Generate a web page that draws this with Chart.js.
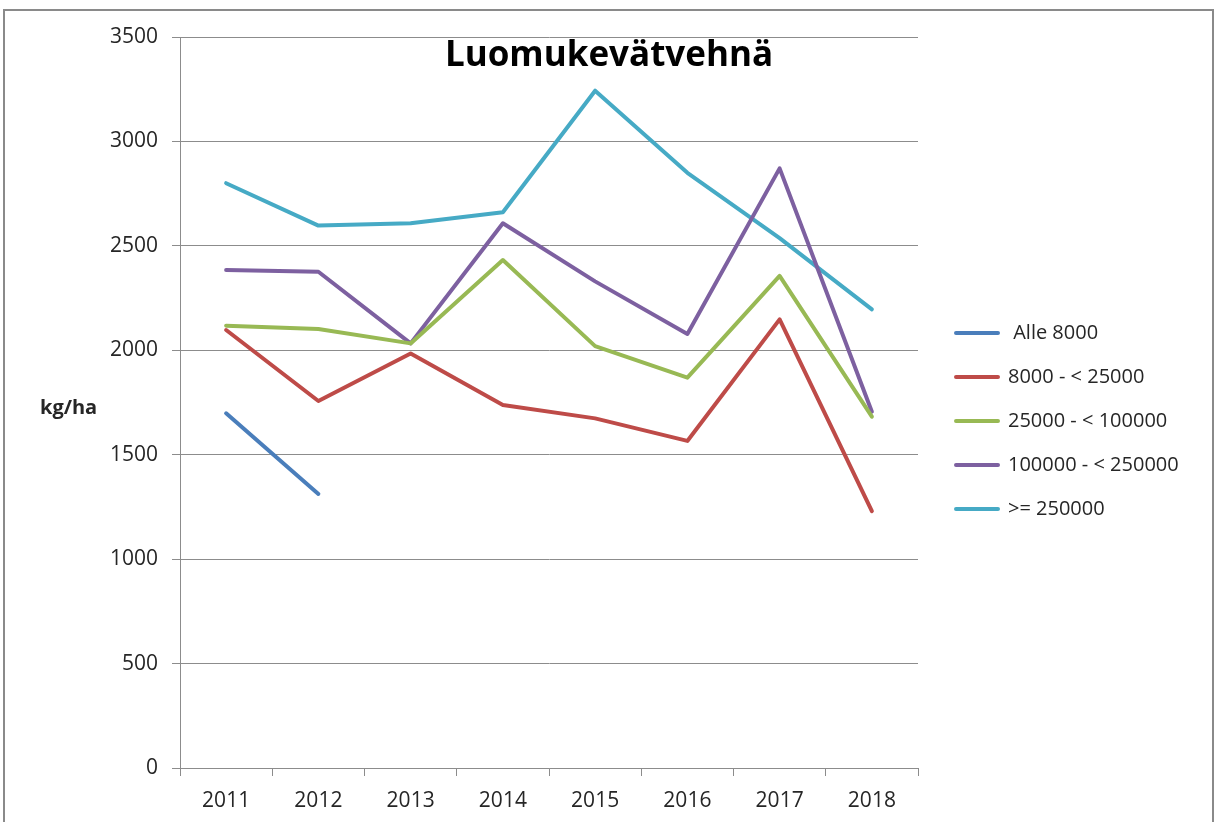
<!DOCTYPE html>
<html>
<head>
<meta charset="utf-8">
<script src="https://cdn.jsdelivr.net/npm/chart.js@4.4.0/dist/chart.umd.min.js"></script>
<style>
  html, body { margin: 0; padding: 0; background: #fff; overflow: hidden; }
  #frame { position: absolute; left: 3px; top: 9px; width: 1207px; height: 900px; border: 2px solid #8a8a8a; }
  #chart { position: absolute; left: 0; top: 0; }
</style>
</head>
<body>
<div id="frame"></div>
<canvas id="chart" width="1219" height="822"></canvas>
<script>
// values (kg/ha)
const years = ['2011', '2012', '2013', '2014', '2015', '2016', '2017', '2018'];
const alle8000 = [1698, 1312, null, null, null, null, null, null];
const from8000 = [2097, 1757, 1985, 1738, 1674, 1566, 2148, 1230];
const from25000 = [2118, 2102, 2033, 2432, 2020, 1869, 2356, 1682];
const from100000 = [2384, 2376, 2033, 2608, 2330, 2078, 2871, 1706];
const over250000 = [2800, 2597, 2608, 2661, 3243, 2850, 2537, 2196];

const seriesNames = ['Alle 8000', '8000 - < 25000', '25000 - < 100000', '100000 - < 250000', '>= 250000'];
const seriesColors = ['#4a7ebb', '#be4b48', '#98b954', '#7d60a0', '#46aac5'];
const seriesValues = [alle8000, from8000, from25000, from100000, over250000];

const chartTitle = 'Luomukevätvehnä';
const unitLabel = 'kg/ha';

const gridColor = '#8c8c8c';
const textColor = '#262626';
const font = 'Open Sans';

// title and unit label sit inside / beside the plot like in the original
const extraText = {
  id: 'extraText',
  afterDraw(chart) {
    const ctx = chart.ctx;
    ctx.save();
    ctx.fillStyle = '#000';
    ctx.font = 'bold 35px "Open Sans"';
    ctx.textAlign = 'center';
    ctx.textBaseline = 'alphabetic';
    ctx.fillText(chartTitle, 609, 66);
    ctx.font = 'bold 20px "Open Sans"';
    ctx.textAlign = 'left';
    ctx.fillStyle = textColor;
    ctx.fillText(unitLabel, 40, 414);
    ctx.restore();
  }
};

// fixed legend width so the plot ends where it does in the reference
const legendWidth = {
  id: 'legendWidth',
  beforeInit(chart) {
    const fit = chart.legend.fit;
    chart.legend.fit = function () {
      fit.call(this);
      this.width = 287;
    };
  }
};

new Chart(document.getElementById('chart'), {
  type: 'line',
  data: {
    labels: years,
    datasets: seriesValues.map((vals, i) => ({
      label: (i === 0 ? ' ' : '') + seriesNames[i],
      data: vals,
      borderColor: seriesColors[i],
      backgroundColor: seriesColors[i],
      borderWidth: 4,
      borderCapStyle: 'round',
      borderJoinStyle: 'round',
      pointRadius: 0,
      tension: 0,
      spanGaps: false
    }))
  },
  options: {
    responsive: false,
    animation: false,
    devicePixelRatio: 1,
    layout: { padding: { left: 0, top: 37, right: 0, bottom: 0 } },
    plugins: {
      title: { display: false },
      tooltip: { enabled: false },
      legend: {
        position: 'right',
        fullSize: false,
        title: { display: true, text: '', padding: 0, font: { size: 10, lineHeight: '37px' } },
        labels: {
          boxWidth: 42,
          boxHeight: 0,
          padding: 24,
          color: textColor,
          font: { family: font, size: 20 }
        }
      }
    },
    scales: {
      x: {
        offset: true,
        grid: { display: true, drawOnChartArea: false, drawTicks: true, tickLength: 8, color: gridColor, lineWidth: 1, offset: true },
        border: { display: true, color: gridColor, width: 1 },
        ticks: { color: textColor, padding: 12, maxRotation: 0, font: { family: font, size: 21 } },
        afterFit(s) { s.height = 54; }
      },
      y: {
        min: 0,
        max: 3500,
        ticks: {
          stepSize: 500,
          color: textColor,
          padding: 14,
          font: { family: font, size: 21 },
          callback: (v) => String(v)
        },
        grid: { color: gridColor, lineWidth: 1, tickLength: 8 },
        border: { display: true, color: gridColor, width: 1 },
        afterFit(s) { s.width = 180; }
      },
      // empty spacer between plot and legend
      gap: {
        position: 'right',
        display: true,
        grid: { display: false },
        ticks: { display: false },
        border: { display: false },
        afterFit(s) { s.width = 14; }
      }
    }
  },
  plugins: [extraText, legendWidth]
});
</script>
</body>
</html>
